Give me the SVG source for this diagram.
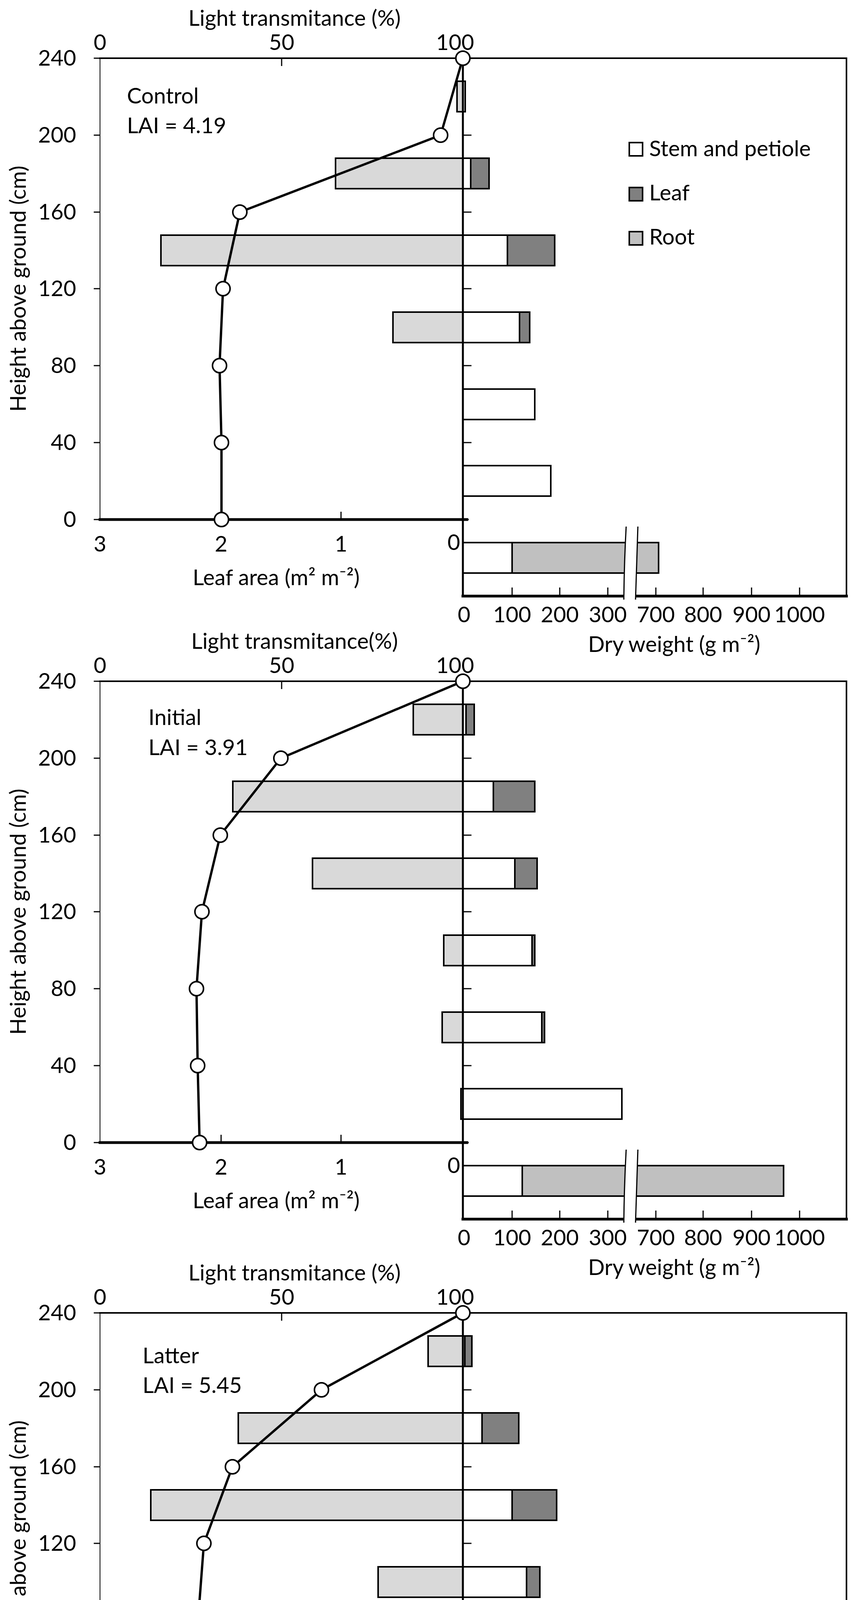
<svg xmlns="http://www.w3.org/2000/svg" width="2217" height="4923" viewBox="0 0 2217 4923">
<style>
text{font-family:Lato,"Liberation Sans",sans-serif;font-size:56px;fill:#000}
.m{text-anchor:middle}.e{text-anchor:end}
.ax{stroke:#000;fill:none;stroke-linecap:square}
.la{fill:#d9d9d9;stroke:#000;stroke-width:4}
.st{fill:#fff;stroke:#000;stroke-width:4}
.lf{fill:#808080;stroke:#000;stroke-width:4}
.rt{fill:#c0c0c0;stroke:#000;stroke-width:4}
.cv{fill:none;stroke:#000;stroke-width:6;stroke-linejoin:round}
.pt{fill:#fff;stroke:#000;stroke-width:4}
.tk{stroke:#000;stroke-width:3}
</style>
<defs>
<g id="frame">
<line class="ax" x1="256" y1="0" x2="256" y2="1181" stroke-width="2"/>
<line class="ax" x1="256" y1="0" x2="2167" y2="0" stroke-width="4"/>
<line class="ax" x1="2167" y1="0" x2="2167" y2="1377" stroke-width="4"/>
<line class="ax" x1="256" y1="1181" x2="1195" y2="1181" stroke-width="7"/>
<line class="ax" x1="1185" y1="1377" x2="2167" y2="1377" stroke-width="7"/>
<g class="tk">
<line x1="240" y1="0" x2="256" y2="0"/><line x1="240" y1="197" x2="256" y2="197"/><line x1="240" y1="394" x2="256" y2="394"/><line x1="240" y1="590" x2="256" y2="590"/><line x1="240" y1="787" x2="256" y2="787"/><line x1="240" y1="984" x2="256" y2="984"/><line x1="240" y1="1181" x2="256" y2="1181"/>
<line x1="721" y1="0" x2="721" y2="20"/>
<line x1="566" y1="1181" x2="566" y2="1161"/><line x1="873" y1="1181" x2="873" y2="1161"/>
<line x1="1185" y1="197" x2="1207" y2="197"/><line x1="1185" y1="394" x2="1207" y2="394"/><line x1="1185" y1="590" x2="1207" y2="590"/><line x1="1185" y1="787" x2="1207" y2="787"/><line x1="1185" y1="984" x2="1207" y2="984"/><line x1="1185" y1="1181" x2="1200" y2="1181"/>
<line x1="1311" y1="1377" x2="1311" y2="1355"/><line x1="1433" y1="1377" x2="1433" y2="1355"/><line x1="1556" y1="1377" x2="1556" y2="1355"/><line x1="1679" y1="1377" x2="1679" y2="1355"/><line x1="1800" y1="1377" x2="1800" y2="1355"/><line x1="1924" y1="1377" x2="1924" y2="1355"/><line x1="2047" y1="1377" x2="2047" y2="1355"/>
</g>
<text class="e" x="195" y="19">240</text><text class="e" x="195" y="216">200</text><text class="e" x="195" y="413">160</text><text class="e" x="195" y="609">120</text><text class="e" x="195" y="806">80</text><text class="e" x="195" y="1003">40</text><text class="e" x="195" y="1200">0</text>
<text class="m" x="256" y="-21">0</text><text class="m" x="721" y="-21">50</text><text class="m" x="1165" y="-21">100</text>
<text class="m" x="256" y="1263">3</text><text class="m" x="566" y="1263">2</text><text class="m" x="873" y="1263">1</text><text class="e" x="1178" y="1259">0</text>
<text class="m" x="707" y="1349">Leaf area (m² m⁻²)</text>
<text class="m" x="1188" y="1444">0</text><text class="m" x="1311" y="1444">100</text><text class="m" x="1433" y="1444">200</text><text class="m" x="1556" y="1444">300</text><text class="m" x="1679" y="1444">700</text><text class="m" x="1800" y="1444">800</text><text class="m" x="1924" y="1444">900</text><text class="m" x="2047" y="1444">1000</text>
<text class="m" x="1726" y="1520">Dry weight (g m⁻²)</text>
<text class="m" transform="translate(66,590) rotate(-90)">Height above ground (cm)</text>
</g>
<g id="brk">
<path d="M1603,1199 Q1598,1290 1597,1386 L1627,1386 Q1630,1290 1633,1199 Z" fill="#fff" stroke="none"/>
<path d="M1603,1199 Q1598,1290 1597,1386 M1633,1199 Q1630,1290 1627,1386" fill="none" stroke="#000" stroke-width="3"/>
</g>
</defs>

<g id="panel-control" transform="translate(0,149)">
<text class="m" x="754" y="-83">Light transmitance (%)</text>
<g id="bars-control">
<rect class="la" x="1170" y="59" width="21" height="78"/>
<rect class="la" x="859" y="256" width="326" height="78"/><rect class="st" x="1185" y="256" width="20" height="78"/><rect class="lf" x="1205" y="256" width="47" height="78"/>
<rect class="la" x="412" y="453" width="773" height="78"/><rect class="st" x="1185" y="453" width="114" height="78"/><rect class="lf" x="1299" y="453" width="121" height="78"/>
<rect class="la" x="1006" y="650" width="179" height="78"/><rect class="st" x="1185" y="650" width="145" height="78"/><rect class="lf" x="1330" y="650" width="26" height="78"/>
<rect class="st" x="1185" y="847" width="184" height="78"/>
<rect class="st" x="1185" y="1043" width="225" height="78"/>
<rect class="st" x="1185" y="1240" width="126" height="78"/><rect class="rt" x="1311" y="1240" width="375" height="78"/>
</g>
<use href="#frame"/>
<use href="#brk"/>
<line class="ax" x1="1185" y1="0" x2="1185" y2="1377" stroke-width="5"/>
<text x="325" y="116">Control</text><text x="325" y="192">LAI = 4.19</text>
<g id="legend">
<rect class="st" x="1611" y="216" width="34" height="34" stroke-width="3"/><text x="1662" y="251">Stem and petiole</text>
<rect class="lf" x="1611" y="331" width="34" height="34" stroke-width="3"/><text x="1662" y="364">Leaf</text>
<rect class="rt" x="1611" y="444" width="34" height="34" stroke-width="3"/><text x="1662" y="477">Root</text>
</g>
<g id="curve-control">
<polyline class="cv" points="1185,0 1128,197 614,394 571,590 562,787 567,984 567,1181"/>
<circle class="pt" cx="1185" cy="0" r="18"/><circle class="pt" cx="1128" cy="197" r="18"/><circle class="pt" cx="614" cy="394" r="18"/><circle class="pt" cx="571" cy="590" r="18"/><circle class="pt" cx="562" cy="787" r="18"/><circle class="pt" cx="567" cy="984" r="18"/><circle class="pt" cx="567" cy="1181" r="18"/>
</g>
</g>

<g id="panel-initial" transform="translate(0,1744)">
<text class="m" x="754" y="-83">Light transmitance(%)</text>
<g id="bars-initial">
<rect class="la" x="1058" y="59" width="127" height="78"/><rect class="st" x="1185" y="59" width="8" height="78"/><rect class="lf" x="1193" y="59" width="21" height="78"/>
<rect class="la" x="596" y="256" width="589" height="78"/><rect class="st" x="1185" y="256" width="78" height="78"/><rect class="lf" x="1263" y="256" width="106" height="78"/>
<rect class="la" x="800" y="453" width="385" height="78"/><rect class="st" x="1185" y="453" width="133" height="78"/><rect class="lf" x="1318" y="453" width="57" height="78"/>
<rect class="la" x="1136" y="650" width="49" height="78"/><rect class="st" x="1185" y="650" width="177" height="78"/><rect class="lf" x="1362" y="650" width="7" height="78"/>
<rect class="la" x="1132" y="847" width="53" height="78"/><rect class="st" x="1185" y="847" width="202" height="78"/><rect class="lf" x="1387" y="847" width="7" height="78"/>
<rect class="la" x="1180" y="1043" width="5" height="78"/><rect class="st" x="1185" y="1043" width="407" height="78"/>
<rect class="st" x="1185" y="1240" width="152" height="78"/><rect class="rt" x="1337" y="1240" width="669" height="78"/>
</g>
<use href="#frame"/>
<use href="#brk"/>
<line class="ax" x1="1185" y1="0" x2="1185" y2="1377" stroke-width="5"/>
<text x="380" y="112">Initial</text><text x="380" y="189">LAI = 3.91</text>
<g id="curve-initial">
<polyline class="cv" points="1185,0 719,197 564,394 517,590 503,787 506,984 511,1181"/>
<circle class="pt" cx="1185" cy="0" r="18"/><circle class="pt" cx="719" cy="197" r="18"/><circle class="pt" cx="564" cy="394" r="18"/><circle class="pt" cx="517" cy="590" r="18"/><circle class="pt" cx="503" cy="787" r="18"/><circle class="pt" cx="506" cy="984" r="18"/><circle class="pt" cx="511" cy="1181" r="18"/>
</g>
</g>

<g id="panel-latter" transform="translate(0,3361)">
<text class="m" x="754" y="-83">Light transmitance (%)</text>
<g id="bars-latter">
<rect class="la" x="1096" y="59" width="89" height="78"/><rect class="st" x="1185" y="59" width="5" height="78"/><rect class="lf" x="1190" y="59" width="18" height="78"/>
<rect class="la" x="610" y="256" width="575" height="78"/><rect class="st" x="1185" y="256" width="49" height="78"/><rect class="lf" x="1234" y="256" width="94" height="78"/>
<rect class="la" x="386" y="453" width="799" height="78"/><rect class="st" x="1185" y="453" width="126" height="78"/><rect class="lf" x="1311" y="453" width="114" height="78"/>
<rect class="la" x="968" y="650" width="217" height="78"/><rect class="st" x="1185" y="650" width="163" height="78"/><rect class="lf" x="1348" y="650" width="34" height="78"/>
<rect class="la" x="1180" y="847" width="5" height="78"/><rect class="st" x="1185" y="847" width="126" height="78"/>
<rect class="st" x="1185" y="1043" width="314" height="78"/>
<rect class="st" x="1185" y="1240" width="119" height="78"/><rect class="rt" x="1304" y="1240" width="846" height="78"/>
</g>
<use href="#frame"/>
<use href="#brk"/>
<line class="ax" x1="1185" y1="0" x2="1185" y2="1377" stroke-width="5"/>
<text x="365" y="129">Latter</text><text x="365" y="205">LAI = 5.45</text>
<g id="curve-latter">
<polyline class="cv" points="1185,0 823,197 595,394 522,590 507,787 517,984 519,1181"/>
<circle class="pt" cx="1185" cy="0" r="18"/><circle class="pt" cx="823" cy="197" r="18"/><circle class="pt" cx="595" cy="394" r="18"/><circle class="pt" cx="522" cy="590" r="18"/><circle class="pt" cx="507" cy="787" r="18"/><circle class="pt" cx="517" cy="984" r="18"/><circle class="pt" cx="519" cy="1181" r="18"/>
</g>
</g>
</svg>
